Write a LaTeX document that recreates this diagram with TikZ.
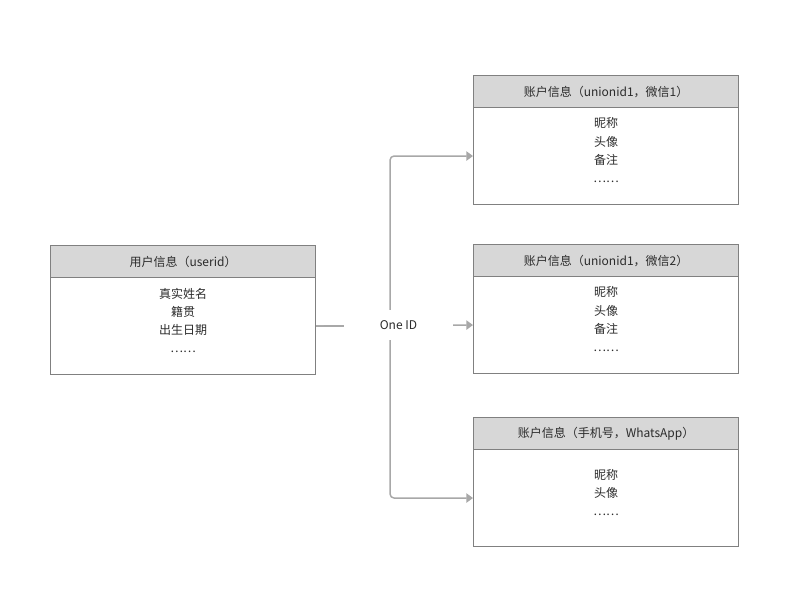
\documentclass[tikz,border=0pt]{standalone}
\usepackage{fontspec}
\setmainfont{Noto Sans CJK SC}
\usetikzlibrary{arrows.meta}
\definecolor{hdrfill}{HTML}{D7D7D7}
\definecolor{boxline}{HTML}{808080}
\definecolor{txt}{HTML}{2B2B2B}
\definecolor{connc}{HTML}{A8A8A8}
\begin{document}
\begin{tikzpicture}[x=0.75pt,y=-0.75pt,
  every node/.style={font=\fontsize{9}{13.7}\selectfont, text=txt},
  hdr/.style={draw=boxline, fill=hdrfill, line width=0.8pt, minimum width=198.75pt, minimum height=24pt, anchor=north west, inner sep=0pt},
  bodybox/.style={draw=boxline, line width=0.8pt, minimum width=198.75pt, minimum height=72.75pt, anchor=north west, inner sep=0pt},
  rows/.style={align=center, anchor=center, inner sep=0pt, yshift=4.2pt},
  conn/.style={draw=connc, line width=1.1pt, rounded corners=3pt},
  tip/.style={-{Triangle[length=5pt,width=7pt]}}
]
\useasboundingbox (0,0) rectangle (806,616);
% left box
\node[bodybox] (b0) at (50,277) {};
\node[hdr] (h0) at (50,245) {用户信息（userid）};
\node[rows] (t0) at (b0.center) {真实姓名\\籍贯\\出生日期\\……};
% right box 1
\node[bodybox] (b1) at (473,107) {};
\node[hdr] (h1) at (473,75) {账户信息（unionid1，微信1）};
\node[rows] (t1) at (b1.center) {昵称\\头像\\备注\\……};
% right box 2
\node[bodybox] (b2) at (473,276) {};
\node[hdr] (h2) at (473,244) {账户信息（unionid1，微信2）};
\node[rows] (t2) at (b2.center) {昵称\\头像\\备注\\……};
% right box 3
\node[bodybox] (b3) at (473,449) {};
\node[hdr] (h3) at (473,417) {账户信息（手机号，WhatsApp）};
\node[rows] (t3) at (b3.center) {昵称\\头像\\……};
% connectors
\draw[conn,tip] (b0.east) -- ++(74,0) |- (b1.west);
\draw[conn,tip] (b0.east) -- (b2.west);
\draw[conn,tip] (b0.east) -- ++(74,0) |- (b3.west);
\node[fill=white, minimum width=81.75pt, minimum height=22.5pt, inner sep=0pt] (lbl) at (398.5,325) {One ID};
\end{tikzpicture}
\end{document}
